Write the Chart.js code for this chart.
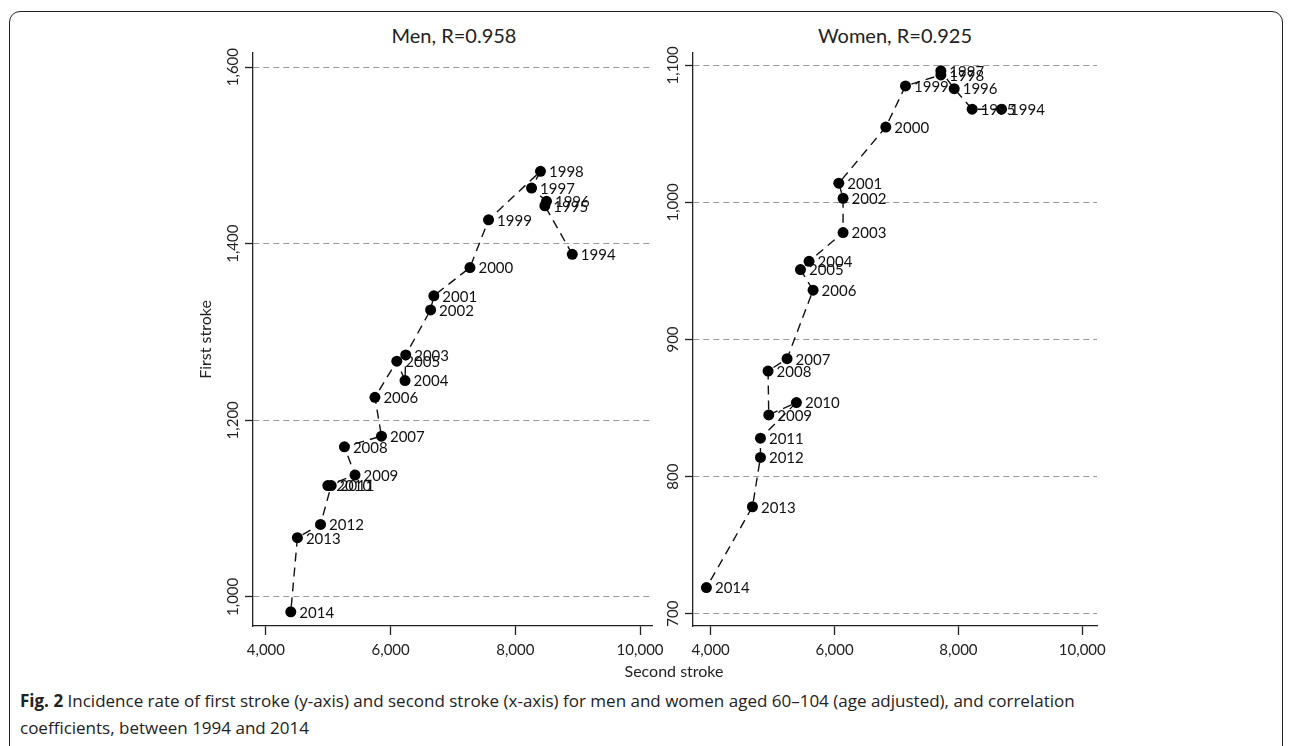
<!DOCTYPE html>
<html>
<head>
<meta charset="utf-8">
<script src="https://cdn.jsdelivr.net/npm/chart.js@4.4.1/dist/chart.umd.min.js"></script>
<style>
  body { margin: 0; background: #fff; font-family: Lato, sans-serif; color: #222; }
  #page { position: relative; width: 1292px; height: 746px; overflow: hidden; }
  #frame { position: absolute; left: 9px; top: 11px; width: 1272px; height: 800px;
           border: 1.5px solid #222; border-radius: 11px; }
  canvas { position: absolute; }
  .ttl { position: absolute; font-size: 20px; transform: translateX(-50%); white-space: nowrap; }
  #xtitle { position: absolute; left: 674px; top: 661px; font-size: 16px; transform: translateX(-50%); }
  #caption { position: absolute; left: 20px; top: 687px; width: 1110px; font-family: "Open Sans", sans-serif;
             font-size: 17px; line-height: 27px; }
</style>
</head>
<body>
<div id="page">
  <div id="frame"></div>
  <div class="ttl" style="left:454px; top:23px">Men, R=0.958</div>
  <div class="ttl" style="left:895px; top:23px">Women, R=0.925</div>
  <canvas id="men" width="500" height="650" style="left:170px; top:20px"></canvas>
  <canvas id="women" width="475" height="650" style="left:640px; top:20px"></canvas>
  <div id="xtitle">Second stroke</div>
  <div id="caption"><b>Fig. 2</b> Incidence rate of first stroke (y-axis) and second stroke (x-axis) for men and women aged 60–104 (age adjusted), and correlation coefficients, between 1994 and 2014</div>
</div>
<script>
var years = ['1994','1995','1996','1997','1998','1999','2000','2001','2002','2003','2004',
             '2005','2006','2007','2008','2009','2010','2011','2012','2013','2014'];

// men: second stroke (x) and first stroke (y) incidence
var menSecond = [8913, 8473, 8499, 8260, 8403, 7570, 7272, 6693, 6641, 6242, 6231,
                 6099, 5748, 5853, 5259, 5429, 4993, 5047, 4876, 4505, 4399];
var menFirst  = [1388, 1443, 1448, 1463, 1482, 1427, 1373, 1341, 1325, 1274, 1245,
                 1267, 1226, 1182, 1170, 1138, 1126, 1126, 1082, 1067, 983];

// women
var womenSecond = [8696, 8221, 7931, 7716, 7716, 7145, 6827, 6068, 6137, 6137, 5588,
                   5449, 5653, 5233, 4926, 4937, 5384, 4803, 4803, 4674, 3931];
var womenFirst  = [1068, 1068, 1083, 1096, 1093, 1085, 1055, 1014, 1003, 978, 957,
                   951, 936, 886, 877, 845, 854, 828, 814, 778, 719];

var xTicks = [4000, 6000, 8000, 10000];
var menYTicks = [1000, 1200, 1400, 1600];
var womenYTicks = [700, 800, 900, 1000, 1100];

var FONT = 'Lato, sans-serif';
function fmt(v) { return Number(v).toLocaleString('en-US'); }

// y tick labels are drawn rotated, reading bottom to top
var rotatedYTicks = {
  id: 'rotatedYTicks',
  afterDraw: function(chart) {
    var s = chart.scales.y, ctx = chart.ctx;
    ctx.save();
    ctx.font = '15px ' + FONT;
    ctx.fillStyle = '#222';
    ctx.textAlign = 'center';
    ctx.textBaseline = 'alphabetic';
    s.ticks.forEach(function(t) {
      ctx.save();
      ctx.translate(s.right - 15, s.getPixelForValue(t.value));
      ctx.rotate(-Math.PI / 2);
      ctx.fillText(fmt(t.value), 0, 0);
      ctx.restore();
    });
    ctx.restore();
  }
};

// year next to each marker
var yearLabels = {
  id: 'yearLabels',
  afterDatasetsDraw: function(chart) {
    var ctx = chart.ctx;
    var pts = chart.getDatasetMeta(0).data;
    ctx.save();
    ctx.font = '15px ' + FONT;
    ctx.fillStyle = '#111';
    ctx.textAlign = 'left';
    ctx.textBaseline = 'middle';
    pts.forEach(function(p, i) {
      ctx.fillText(chart.data.labels[i], p.x + 8.5, p.y + 1);
    });
    ctx.restore();
  }
};

function strokeChart(id, xs, ys, yTicks, xMin, xMax, yMin, yMax, yWidth, padRight, yTitle) {
  var pts = xs.map(function(x, i) { return {x: x, y: ys[i]}; });
  return new Chart(document.getElementById(id), {
    type: 'scatter',
    data: {
      labels: years,
      datasets: [{
        data: pts,
        showLine: true,
        borderColor: '#111',
        borderWidth: 1.4,
        borderDash: [9, 6],
        pointRadius: 5.5,
        pointHoverRadius: 5.5,
        pointBackgroundColor: '#000',
        pointBorderWidth: 0
      }]
    },
    options: {
      responsive: false,
      animation: false,
      devicePixelRatio: 1,
      layout: { padding: { top: 33, right: padRight, left: 0, bottom: 0 } },
      plugins: { legend: { display: false }, tooltip: { enabled: false } },
      scales: {
        x: {
          type: 'linear', min: xMin, max: xMax,
          afterBuildTicks: function(s) { s.ticks = xTicks.map(function(v) { return {value: v}; }); },
          afterFit: function(s) { s.height = 44; },
          grid: { drawOnChartArea: false, drawTicks: true, tickLength: 9, tickColor: '#222', tickWidth: 1.3 },
          border: { color: '#222', width: 1.3 },
          ticks: { font: { family: FONT, size: 15 }, color: '#222', padding: 6, maxRotation: 0,
                   callback: function(v) { return fmt(v); } }
        },
        y: {
          type: 'linear', min: yMin, max: yMax,
          afterBuildTicks: function(s) { s.ticks = yTicks.map(function(v) { return {value: v}; }); },
          afterFit: function(s) { s.width = yWidth; },
          grid: { color: '#9a9a9a', lineWidth: 1, drawTicks: true, tickLength: 8,
                  tickColor: '#222', tickWidth: 1.3, tickBorderDash: [] },
          border: { color: '#222', width: 1.3, dash: [6, 4] },
          ticks: { display: false },
          title: { display: !!yTitle, text: yTitle, font: { family: FONT, size: 16 }, color: '#222',
                   padding: { top: 26, bottom: 0 } }
        }
      }
    },
    plugins: [rotatedYTicks, yearLabels]
  });
}

strokeChart('men', menSecond, menFirst, menYTicks, 3793, 10203, 967, 1616, 83, 15, 'First stroke');
strokeChart('women', womenSecond, womenFirst, womenYTicks, 3714, 10237, 691, 1109, 53, 18, '');
</script>
</body>
</html>
